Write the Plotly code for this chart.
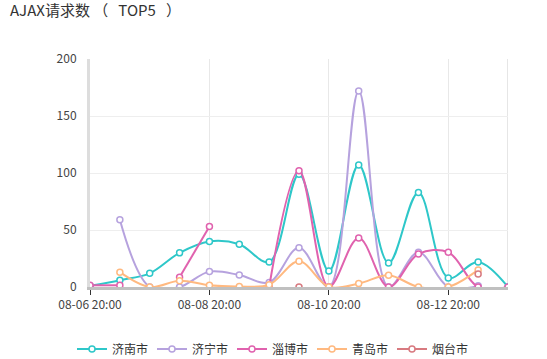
import plotly.graph_objects as go

times = ["08-06 20:00", "08-07 08:00", "08-07 20:00", "08-08 08:00", "08-08 20:00",
         "08-09 08:00", "08-09 20:00", "08-10 08:00", "08-10 20:00", "08-11 08:00",
         "08-11 20:00", "08-12 08:00", "08-12 20:00", "08-13 08:00", "08-13 20:00"]

jinan = [1, 6, 12, 30, 40, 37.5, 22, 99, 14, 107, 21, 83, 8, 22, 0]
jining = [None, 59, 0, 0, 13.5, 10.5, 4, 34.5, 0, 172, 0, 30.5, 0, 1, None]
zibo = [1.5, 1.5, None, 8.5, 53, None, 0, 102, 0, 43, 0, 29, 30.5, 0, 0]
qingdao = [None, 13, 0, 5.5, 1.5, 0.5, 2, 22.5, 0, 3, 10.3, 0, 0, 15, None]
yantai = [None, None, None, None, None, None, None, 0, None, None, None, None, None, 11.5, None]

series = [
    ("济南市", jinan, "#2ec7c9"),
    ("济宁市", jining, "#b6a2de"),
    ("淄博市", zibo, "#e062ae"),
    ("青岛市", qingdao, "#ffb980"),
    ("烟台市", yantai, "#d87a80"),
]

font_family = "Noto Sans CJK SC, Noto Sans, sans-serif"

fig = go.Figure()
for name, vals, color in series:
    fig.add_trace(go.Scatter(
        x=times, y=vals, name=name, mode="lines+markers",
        line=dict(color=color, width=2, shape="spline", smoothing=1),
        marker=dict(symbol="circle", size=6, color="white",
                    line=dict(color=color, width=1.5)),
        connectgaps=False,
    ))

fig.add_shape(type="line", xref="x", yref="paper", x0=14, x1=14, y0=0, y1=1,
              line=dict(color="#cccccc", width=1), layer="below")

W, H = 547, 359
fig.update_layout(
    width=W, height=H,
    margin=dict(l=90, r=39, t=59, b=72, autoexpand=False),
    paper_bgcolor="white", plot_bgcolor="white",
    font=dict(family=font_family, size=12, color="#333"),
    title=dict(text="AJAX请求数 （\u00a0\u00a0\u00a0TOP5\u00a0\u00a0\u00a0）",
               xref="container", x=10 / W, xanchor="left",
               yref="container", y=1 - 11 / H, yanchor="middle",
               font=dict(size=15, color="#333", family=font_family)),
    showlegend=True,
    legend=dict(orientation="h", xref="container", x=72 / W, xanchor="left",
                yref="container", y=10 / H, yanchor="middle",
                font=dict(size=12, color="#333"), itemwidth=30,
                entrywidth=35, entrywidthmode="pixels",
                tracegroupgap=0, borderwidth=0),
    xaxis=dict(
        type="category", categoryorder="array", categoryarray=times,
        range=[0, 14], tickvals=times[::4], ticktext=times[::4],
        showgrid=True, gridcolor="#e8e8e8", gridwidth=1,
        showline=True, linecolor="#c0c0c0", linewidth=3,
        ticks="outside", ticklen=5, tickcolor="#333", tickwidth=1,
        tickfont=dict(size=12, color="#444"), zeroline=False,
        automargin=False,
    ),
    yaxis=dict(
        range=[0, 200], tickvals=[0, 50, 100, 150, 200],
        showgrid=True, gridcolor="#eeeeee", gridwidth=1,
        showline=True, linecolor="#dddddd", linewidth=3,
        ticks="", tickfont=dict(size=12, color="#444"), zeroline=False,
        ticklabelstandoff=8, automargin=False,
    ),
)

fig.write_html("out.html", config={"displayModeBar": False},
               post_script="document.body.style.margin='0px';")
